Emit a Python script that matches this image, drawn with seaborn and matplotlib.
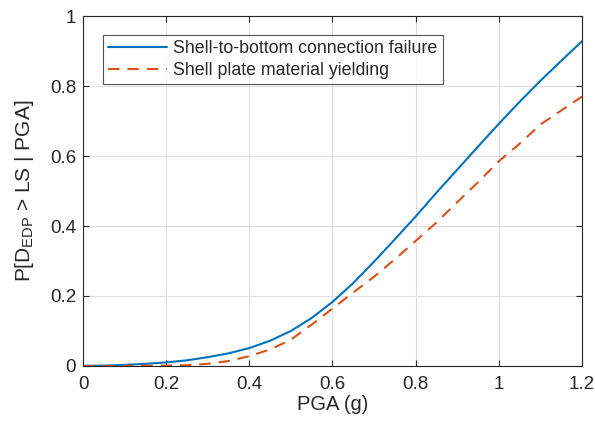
import matplotlib
matplotlib.use("Agg")
import matplotlib.pyplot as plt
import numpy as np
import pandas as pd
import seaborn as sns

# fragility curves
pga = [0.0, 0.05, 0.1, 0.15, 0.2, 0.25, 0.3, 0.35, 0.4, 0.45, 0.5, 0.55, 0.6,
       0.65, 0.7, 0.75, 0.8, 0.85, 0.9, 0.95, 1.0, 1.05, 1.1, 1.15, 1.2]
p_connection = [0.0, 0.001, 0.003, 0.006, 0.010, 0.016, 0.025, 0.036, 0.051,
                0.072, 0.100, 0.137, 0.183, 0.237, 0.298, 0.362, 0.427, 0.495,
                0.561, 0.627, 0.692, 0.755, 0.815, 0.872, 0.928]
p_yielding = [0.0, 0.0, 0.0, 0.0005, 0.001, 0.002, 0.006, 0.014, 0.028, 0.047,
              0.075, 0.118, 0.164, 0.21, 0.255, 0.305, 0.357, 0.41, 0.468,
              0.525, 0.585, 0.635, 0.69, 0.73, 0.77]
labels = ["Shell-to-bottom connection failure", "Shell plate material yielding"]

df = pd.concat([
    pd.DataFrame({"PGA": pga, "P": p_connection, "mode": labels[0]}),
    pd.DataFrame({"PGA": pga, "P": p_yielding, "mode": labels[1]}),
])

sns.set_style("ticks")
plt.rcParams["font.family"] = ["Liberation Sans", "DejaVu Sans"]
plt.rcParams["mathtext.fontset"] = "custom"
plt.rcParams["mathtext.rm"] = "Liberation Sans"
plt.rcParams["mathtext.it"] = "Liberation Sans"

fig = plt.figure(figsize=(5.95, 4.25), dpi=100)
ax = fig.add_axes([0.1395, 0.139, 0.8385, 0.823])

sns.lineplot(data=df, x="PGA", y="P", hue="mode", style="mode",
             palette=["#0072BD", "#D95319"], dashes=["", (5.5, 3.8)],
             linewidth=1.5, ax=ax)

ax.set_xlim(0, 1.2)
ax.set_ylim(0, 1)
ax.set_xticks([0, 0.2, 0.4, 0.6, 0.8, 1.0, 1.2])
ax.set_xticklabels(["0", "0.2", "0.4", "0.6", "0.8", "1", "1.2"])
ax.set_yticks([0, 0.2, 0.4, 0.6, 0.8, 1.0])
ax.set_yticklabels(["0", "0.2", "0.4", "0.6", "0.8", "1"])
ax.grid(True, color="#dfdfdf", linewidth=0.8)
ax.set_axisbelow(True)
for s in ax.spines.values():
    s.set_visible(True)
    s.set_color("#262626")
    s.set_linewidth(0.8)
ax.tick_params(direction="in", top=True, right=True, length=4,
               labelsize=13.5, colors="#262626", width=0.8)
ax.tick_params(axis="x", pad=7)
ax.tick_params(axis="y", pad=5)
ax.set_xlabel("PGA (g)", fontsize=14.5, color="#262626", labelpad=2)
ax.set_ylabel(r"P[D$_{\rm EDP}$ > LS | PGA]", fontsize=15, color="#262626",
              labelpad=10)

leg = ax.legend(loc="upper left", bbox_to_anchor=(0.04, 0.946), fontsize=12.8,
                frameon=True, fancybox=False, edgecolor="#262626",
                handlelength=3.3, borderpad=0.3, labelspacing=0.25,
                handletextpad=0.35, borderaxespad=0)
leg.get_frame().set_linewidth(0.8)

fig.savefig("out.png", dpi=100)
